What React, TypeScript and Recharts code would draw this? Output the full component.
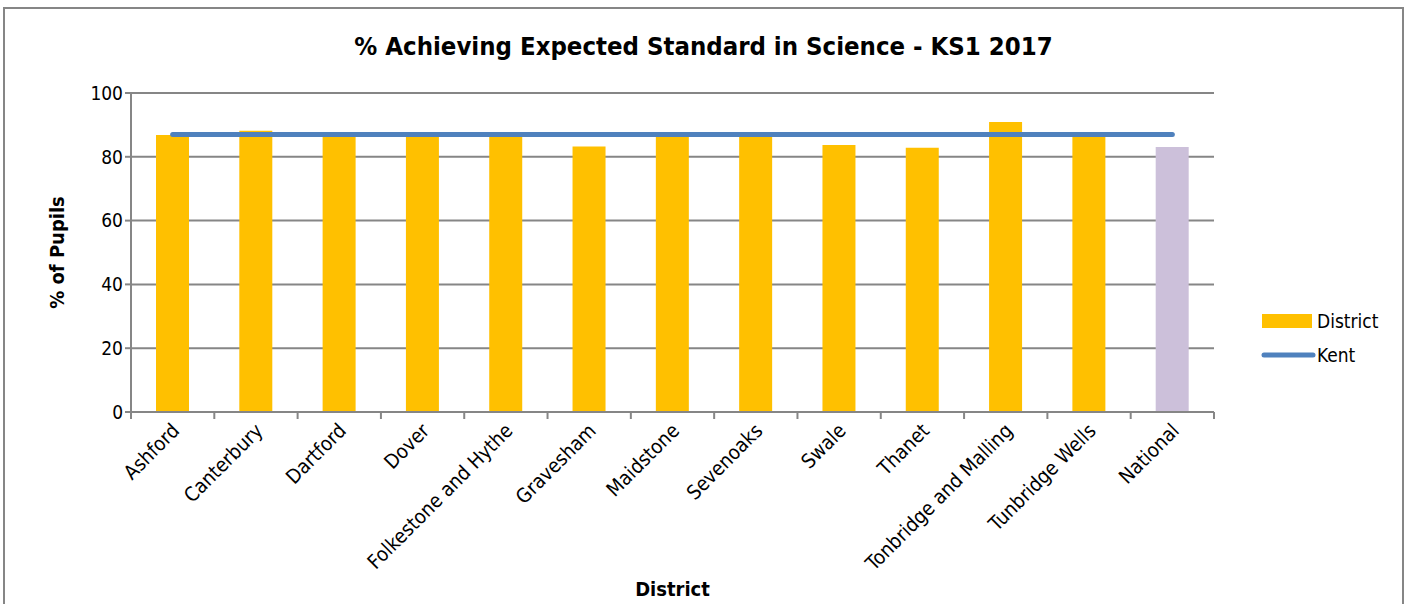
import React from 'react';
import { ComposedChart, Bar, Line, Cell, XAxis, YAxis, CartesianGrid } from 'recharts';

const districts = [
  'Ashford',
  'Canterbury',
  'Dartford',
  'Dover',
  'Folkestone and Hythe',
  'Gravesham',
  'Maidstone',
  'Sevenoaks',
  'Swale',
  'Thanet',
  'Tonbridge and Malling',
  'Tunbridge Wells',
  'National',
];
const districtPct = [86.8, 88.2, 87.3, 87.2, 87.1, 83.2, 87.2, 87.4, 83.7, 82.8, 90.9, 87.3, 83.1];
const kentPct = [87, 87, 87, 87, 87, 87, 87, 87, 87, 87, 87, 87, 87];
const yTicks = [0, 20, 40, 60, 80, 100];

const data = districts.map((name, i) => ({ name, district: districtPct[i], kent: kentPct[i] }));

const FONT = '"DejaVu Sans Condensed", "DejaVu Sans", Tahoma, sans-serif';
const W = 1397;
const H = 640;
const M = { top: 84, right: 188, bottom: 0, left: 0 };
const Y_W = 126;
const X_H = H - 403;
const band = (W - Y_W - M.right) / districts.length;

const DISTRICT = '#FFC000';
const NATIONAL = '#CCC0DA';
const KENT = '#4F81BD';
const AXIS = '#868686';

function DistrictTick(props: any) {
  const { x, y, payload } = props;
  return (
    <g>
      <line x1={x - band / 2} y1={y - 8} x2={x - band / 2} y2={y - 1} stroke={AXIS} strokeWidth={2} />
      {payload.index === districts.length - 1 && (
        <line x1={x + band / 2} y1={y - 8} x2={x + band / 2} y2={y - 1} stroke={AXIS} strokeWidth={2} />
      )}
      <text
        x={x + 8}
        y={y + 12}
        transform={`rotate(-45 ${x + 8} ${y + 12})`}
        textAnchor="end"
        fontSize={20}
        fontFamily={FONT}
        fill="#000"
      >
        {payload.value}
      </text>
    </g>
  );
}

function LegendBox() {
  return (
    <svg width={140} height={70} style={{ position: 'absolute', left: 1255, top: 298 }}>
      <rect x={2} y={7} width={50} height={14} fill={DISTRICT} />
      <text x={57} y={21} fontSize={19} fontFamily={FONT} fill="#000">District</text>
      <line x1={4} y1={48} x2={53} y2={48} stroke={KENT} strokeWidth={5} strokeLinecap="round" />
      <text x={57} y={55} fontSize={19} fontFamily={FONT} fill="#000">Kent</text>
    </svg>
  );
}

export default function App() {
  return (
    <div
      style={{
        position: 'absolute',
        left: 3,
        top: 7,
        width: W,
        height: H,
        border: `2px solid ${AXIS}`,
        background: '#fff',
        fontFamily: FONT,
      }}
    >
      <div
        style={{
          position: 'absolute',
          top: 22,
          width: '100%',
          textAlign: 'center',
          fontSize: 25.5,
          fontWeight: 'bold',
          fontFamily: FONT,
        }}
      >
        % Achieving Expected Standard in Science - KS1 2017
      </div>
      <ComposedChart width={W} height={H} data={data} margin={M}>
        <CartesianGrid vertical={false} stroke={AXIS} strokeWidth={2} />
        <XAxis
          dataKey="name"
          interval={0}
          tick={<DistrictTick />}
          tickLine={false}
          axisLine={{ stroke: AXIS, strokeWidth: 2 }}
          height={X_H}
          label={{
            value: 'District',
            position: 'insideBottom',
            offset: 53,
            fontSize: 20,
            fontWeight: 'bold',
            fill: '#000',
            fontFamily: FONT,
          }}
        />
        <YAxis
          domain={[0, 100]}
          ticks={yTicks}
          interval={0}
          tick={{ fontSize: 19, fill: '#000', fontFamily: FONT }}
          tickLine={{ stroke: AXIS, strokeWidth: 2 }}
          tickSize={6}
          axisLine={{ stroke: AXIS, strokeWidth: 2 }}
          width={Y_W}
          label={{
            value: '% of Pupils',
            angle: -90,
            position: 'insideLeft',
            offset: 52,
            fontSize: 20,
            fontWeight: 'bold',
            fill: '#000',
            fontFamily: FONT,
            style: { textAnchor: 'middle' },
          }}
        />
        <Bar dataKey="district" name="District" barSize={33} isAnimationActive={false}>
          {data.map((d, i) => (
            <Cell key={d.name} fill={i === data.length - 1 ? NATIONAL : DISTRICT} />
          ))}
        </Bar>
        <Line
          dataKey="kent"
          name="Kent"
          type="linear"
          stroke={KENT}
          strokeWidth={5}
          strokeLinecap="round"
          dot={false}
          activeDot={false}
          isAnimationActive={false}
        />
      </ComposedChart>
      <LegendBox />
    </div>
  );
}
